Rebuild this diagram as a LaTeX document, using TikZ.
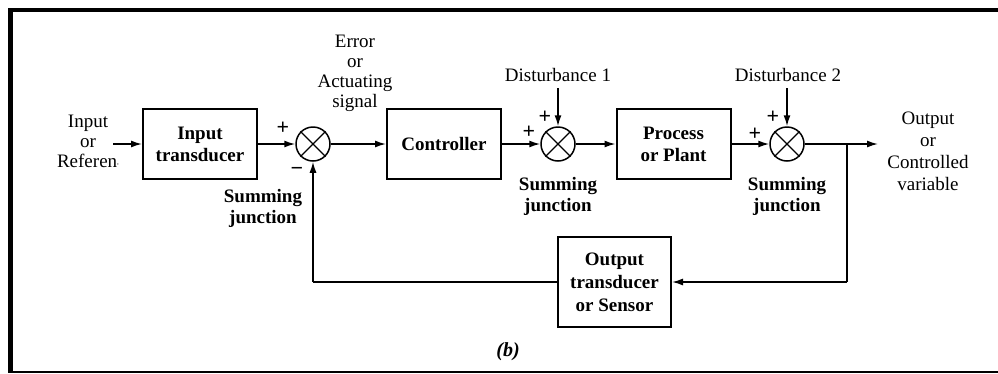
\documentclass[tikz,border=0pt]{standalone}
\usepackage{fontspec}
\setmainfont{Liberation Serif}
\usetikzlibrary{arrows.meta}
\begin{document}
\begin{tikzpicture}[x=1pt,y=-1pt,
  blk/.style={draw,line width=2pt,minimum width=114pt,minimum height=70pt,align=center,font=\fontsize{19}{22}\selectfont\bfseries,inner sep=0pt},
  sj/.style={draw,circle,line width=1.5pt,minimum size=34pt,inner sep=0pt},
  lbl/.style={align=center,font=\fontsize{19}{20}\selectfont,inner sep=0pt},
  blbl/.style={align=center,font=\fontsize{19}{21}\selectfont\bfseries,inner sep=0pt},
  sgn/.style={font=\fontsize{22}{22}\selectfont\bfseries,inner sep=0pt},
  conn/.style={line width=1.5pt,-{Latex[length=11pt,width=7pt]}},
  wire/.style={line width=1.5pt}]
\useasboundingbox (0,0) rectangle (998,373);
\fill[white] (0,0) rectangle (998,373);
% frame
\draw[line width=5pt] (10.5,8) -- (10.5,373);
\draw[line width=4pt] (8,10) -- (998,10);
\draw[line width=1.5pt] (10,372) -- (998,372);

% blocks
\node[blk] (inb) at (200,144) {Input\\transducer};
\node[blk] (ctrl) at (444,144) {Controller};
\node[blk] (proc) at (673.5,144) {Process\\or Plant};
\node[blk,minimum width=113pt,minimum height=90pt,font=\fontsize{19}{23}\selectfont\bfseries] (sens) at (614.5,282) {Output\\transducer\\or Sensor};

% summing junctions
\node[sj] (s1) at (313,144) {};
\node[sj] (s2) at (558,144) {};
\node[sj] (s3) at (787,144) {};
\foreach \s in {s1,s2,s3}{
  \draw[line width=1.3pt] (\s.45) -- (\s.225);
  \draw[line width=1.3pt] (\s.135) -- (\s.315);
}

% labels
\node[lbl] (inlbl) at (88,141) {Input\\or\\Referen\raisebox{0.3ex}{\scriptsize,}};
\node[lbl] (err) at (355,73) {Error\\or\\Actuating\\signal};
\node[lbl] (d1) at (558,75) {Disturbance 1};
\node[lbl] (d2) at (788,75) {Disturbance 2};
\node[lbl,font=\fontsize{19}{22}\selectfont] (outlbl) at (928,151) {Output\\or\\Controlled\\variable};
\node[blbl] (sj1l) at (263,208) {Summing\\junction};
\node[blbl] (sj2l) at (558,196) {Summing\\junction};
\node[blbl] (sj3l) at (787,196) {Summing\\junction};
\node[font=\fontsize{20}{20}\selectfont\bfseries\itshape] (blab) at (508,352) {(b)};

% signs
\node[sgn] (p1) at (283,128) {+};
\node[sgn] (m1) at (297,171) {\textminus};
\node[sgn] (p2t) at (545,117) {+};
\node[sgn] (p2l) at (529,132) {+};
\node[sgn] (p3t) at (773,117) {+};
\node[sgn] (p3l) at (755,134) {+};

% coordinates
\coordinate (inst) at (113,144);
\coordinate (d1s) at (558,88);
\coordinate (d2s) at (787,88);
\coordinate (br) at (847,144);
\coordinate (outend) at (878,144);
\coordinate (brdn) at (847,282);
\coordinate (fbl) at (313,282);

% connectors
\draw[conn] (inst) -- (inb.west);
\draw[conn] (inb.east) -- (s1.west);
\draw[conn] (s1.east) -- (ctrl.west);
\draw[conn] (ctrl.east) -- (s2.west);
\draw[conn] (s2.east) -- (proc.west);
\draw[conn] (proc.east) -- (s3.west);
\draw[conn] (d1s) -- (s2.north);
\draw[conn] (d2s) -- (s3.north);
\draw[conn] (s3.east) -- (outend);
\draw[wire] (br) -- (brdn);
\draw[conn] (brdn) -- (sens.east);
\draw[wire] (sens.west) -- (fbl);
\draw[conn] (fbl) -- (s1.south);
\end{tikzpicture}
\end{document}
